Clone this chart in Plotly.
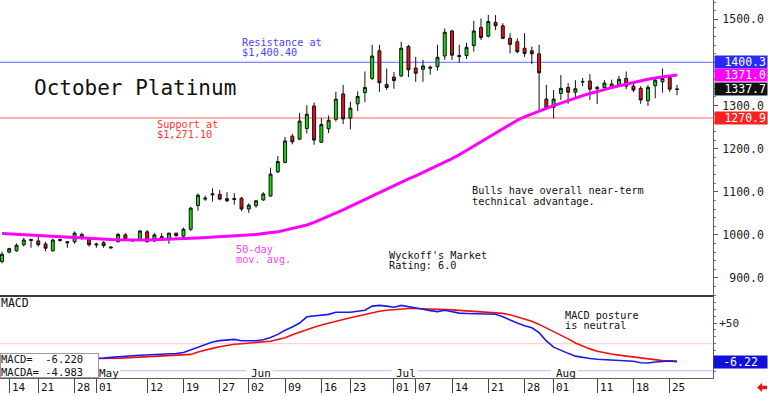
import pandas as pd
import plotly.graph_objects as go

W, H = 768, 396
MONO = "DejaVu Sans Mono"

# ---------------- data ----------------
holidays = ["2025-04-18", "2025-05-26", "2025-06-19", "2025-07-04"]
trade_days = [d.strftime("%Y-%m-%d") for d in pd.bdate_range("2025-04-11", "2025-08-26")
              if d.strftime("%Y-%m-%d") not in holidays]

opens = [938, 960, 963, 977, 987, 986, 979, 963, 987, 984,
         984, 1001, 990, 979, 982, 972, 984, 1000, 986, 988,
         1007, 986, 996, 990, 1004, 997, 1013, 1068, 1083, 1093,
         1094, 1084, 1082, 1085, 1060, 1068, 1081, 1090, 1146, 1168,
         1229, 1222, 1247, 1299, 1215, 1246, 1268, 1327, 1271, 1304,
         1330, 1363, 1427, 1349, 1366, 1369, 1437, 1387, 1384, 1389,
         1390, 1415, 1473, 1416, 1416, 1439, 1481, 1461, 1493, 1485,
         1456, 1448, 1433, 1427, 1420, 1315, 1296, 1328, 1342, 1331,
         1356, 1357, 1339, 1342, 1350, 1348, 1363, 1345, 1340, 1311,
         1346, 1355, 1365, 1338.5]
highs = [961, 970, 980, 993, 991, 996, 984, 991, 991, 986,
         1008, 1005, 994, 982, 986, 973, 1004, 1004, 989, 1011,
         1011, 1004, 1004, 1005, 1005, 1017, 1065, 1096, 1091, 1108,
         1104, 1099, 1097, 1088, 1073, 1081, 1099, 1156, 1183, 1227,
         1234, 1283, 1301, 1307, 1271, 1277, 1332, 1348, 1309, 1333,
         1379, 1441, 1441, 1386, 1378, 1448, 1441, 1413, 1406, 1393,
         1441, 1479, 1476, 1441, 1446, 1497, 1502, 1510, 1510, 1491,
         1468, 1456, 1468, 1437, 1441, 1348, 1336, 1371, 1352, 1359,
         1364, 1373, 1346, 1359, 1360, 1369, 1379, 1352, 1345, 1348,
         1366, 1386, 1368, 1348]
lows = [934, 957, 961, 973, 970, 973, 962, 961, 984, 970,
        979, 989, 973, 970, 970, 968, 983, 986, 984, 986,
        982, 984, 986, 979, 996, 994, 1009, 1056, 1079, 1077,
        1080, 1076, 1070, 1055, 1051, 1063, 1079, 1089, 1144, 1166,
        1210, 1220, 1235, 1209, 1213, 1236, 1263, 1257, 1245, 1287,
        1308, 1359, 1332, 1336, 1339, 1366, 1366, 1355, 1355, 1372,
        1381, 1406, 1406, 1400, 1408, 1425, 1452, 1458, 1475, 1454,
        1421, 1421, 1413, 1396, 1290, 1290, 1270, 1313, 1304, 1318,
        1345, 1313, 1304, 1334, 1339, 1345, 1338, 1331, 1304, 1299,
        1317, 1330, 1332, 1324]
closes = [955, 968, 976, 988, 989, 977, 969, 988, 989, 982,
          1004, 994, 977, 977, 975, 970, 1001, 990, 987, 1009,
          984, 1000, 990, 1004, 998, 1013, 1062, 1092, 1085, 1095,
          1083, 1079, 1084, 1060, 1069, 1079, 1095, 1141, 1170, 1218,
          1216, 1264, 1280, 1220, 1256, 1266, 1315, 1269, 1294, 1321,
          1342, 1415, 1353, 1342, 1358, 1433, 1383, 1375, 1392, 1387,
          1412, 1470, 1417, 1414, 1435, 1473, 1458, 1495, 1485, 1456,
          1442, 1425, 1421, 1420, 1376, 1294, 1315, 1340, 1331, 1339,
          1355, 1338, 1342, 1352, 1342, 1361, 1345, 1336, 1313, 1342,
          1359, 1363, 1338, 1337.7]
ma50 = [1003, 1002, 1001, 1000, 998.5, 997.5, 996.5, 995.5, 995, 994,
        993, 992, 991, 990, 989.5, 989, 988.5, 988, 988, 988,
        988, 988.5, 989, 989, 990, 991, 992, 993, 994, 995,
        996, 997, 997.5, 998, 999.5, 1001, 1003, 1004.5, 1007, 1011,
        1015, 1019, 1023, 1029, 1036, 1043, 1050, 1058, 1066, 1074,
        1083, 1091, 1099, 1107, 1115, 1123, 1130, 1137, 1145, 1152,
        1160, 1168, 1177, 1186, 1196, 1206, 1216, 1226, 1236, 1247,
        1256, 1266, 1274, 1280, 1287, 1293.5, 1300, 1306, 1312, 1317,
        1323, 1328, 1332, 1337, 1342, 1346, 1350, 1354, 1358, 1361,
        1364, 1366, 1369, 1371]
macd = [-3, -3, -2.8, -2.5, -2.3, -2, -2, -1.8, -1.7, -1.6,
        -1.5, -1.4, -1.3, -1.2, -0.7, 0.2, 1.3, 2, 2.6, 3.2,
        3.6, 4, 4.3, 4.8, 5.8, 7.2, 11, 14.7, 18.5, 22.5,
        24.5, 25.8, 26.3, 24.3, 24, 24.2, 25.8, 29, 33.5, 39.5,
        44.2, 50, 59, 60, 61, 62.5, 65.5, 65.5, 65.5, 67,
        68.5, 74.5, 75.5, 74.5, 72.8, 75.5, 74, 71.5, 70, 68,
        66.5, 68.5, 66.5, 64.3, 63.8, 63.5, 63.2, 63, 62.6, 59,
        54, 50, 46, 43, 36, 24, 15, 10, 6, 2,
        0, -1.5, -2.6, -3, -3.5, -4, -4.4, -5.5, -7.5, -8,
        -6.5, -5.2, -5, -6.22]
macda = [-3.5, -3.4, -3.3, -3.2, -3.1, -3, -2.9, -2.8, -2.7, -2.6,
         -2.5, -2.4, -2.3, -2.2, -1.9, -1.5, -1, -0.5, 0, 0.5,
         1, 1.5, 2, 2.5, 3, 3.5, 4.5, 8, 11, 13.2,
         15.5, 17.5, 19.2, 20, 20.8, 21.3, 21.8, 23.5, 26, 28.5,
         33, 37, 41, 44, 47, 50, 53, 55, 57.5, 60,
         62.5, 65, 67, 68.5, 69.5, 70.5, 71, 71, 70.8, 70.4,
         70, 69.5, 69, 68.3, 67.5, 66.5, 65.5, 65, 64.5, 64,
         62, 59, 56, 52.5, 48, 43, 38, 32, 27, 21,
         16.5, 12.5, 9, 6.5, 5, 3.5, 2, 0.5, -1, -2.5,
         -3.8, -4.5, -4.8, -4.983]

resistance = 1400.4
support = 1271.1
macd_ref_level = 20
last_labels = [("1400.3", 1400.3, "#2a2aff"), ("1371.0", 1371.0, "#ff00ff"),
               ("1337.7", 1337.7, "#111111"), ("1270.9", 1270.9, "#ff2020")]
price_ticks = [900, 1000, 1100, 1200, 1300, 1400, 1500]
price_tick_text = ["900.0", "1000.0", "1100.0", "1200.0", "1300.0", "", "1500.0"]
tick_dates = ["2025-04-14", "2025-04-21", "2025-04-28", "2025-05-01", "2025-05-12",
              "2025-05-19", "2025-05-27", "2025-06-02", "2025-06-09", "2025-06-16",
              "2025-06-23", "2025-07-01", "2025-07-07", "2025-07-14", "2025-07-21",
              "2025-07-28", "2025-08-01", "2025-08-11", "2025-08-18", "2025-08-25"]
tick_labels = ["14", "21", "28", "01", "12", "19", "27", "02", "09", "16",
               "23", "01", "07", "14", "21", "28", "01", "11", "18", "25"]
month_names = ["May", "Jun", "Jul", "Aug"]
month_starts = ["2025-05-01", "2025-06-02", "2025-07-01", "2025-08-01"]

# ---------------- figure ----------------
idx = list(range(len(trade_days)))
pos = {d: i for i, d in enumerate(trade_days)}

def px_x(p):
    return p / W

def px_y(p):
    return 1 - p / H

XDOM = [0, 713 / W]
XR = [-0.2756, 97.96]
PRICE_DOM = [px_y(295), 1]
MACD_DOM = [px_y(378), px_y(295)]

fig = go.Figure()
fig.add_trace(go.Candlestick(
    x=idx, open=opens, high=highs, low=lows, close=closes,
    increasing=dict(line=dict(color="#111111", width=1), fillcolor="#10dd10"),
    decreasing=dict(line=dict(color="#111111", width=1), fillcolor="#ee1010"),
    whiskerwidth=0, xaxis="x", yaxis="y", showlegend=False, hoverinfo="skip"))
fig.add_trace(go.Scatter(x=idx, y=ma50, mode="lines",
                         line=dict(color="#ff00ff", width=3),
                         xaxis="x", yaxis="y", showlegend=False, hoverinfo="skip"))
fig.add_trace(go.Scatter(x=idx, y=macda, mode="lines",
                         line=dict(color="#ee1111", width=1.6),
                         xaxis="x2", yaxis="y2", showlegend=False, hoverinfo="skip"))
fig.add_trace(go.Scatter(x=idx, y=macd, mode="lines",
                         line=dict(color="#1a1aee", width=1.6),
                         xaxis="x2", yaxis="y2", showlegend=False, hoverinfo="skip"))

shapes = [
    dict(type="line", xref="x domain", yref="y", x0=0, x1=1, y0=resistance, y1=resistance,
         line=dict(color="#6464ff", width=1), layer="below"),
    dict(type="line", xref="x domain", yref="y", x0=0, x1=1, y0=support, y1=support,
         line=dict(color="#ff6464", width=1), layer="below"),
    dict(type="line", xref="x2 domain", yref="y2", x0=0, x1=1, y0=macd_ref_level, y1=macd_ref_level,
         line=dict(color="#ffc8c8", width=1), layer="below"),
]
# month band lines
ms_idx = [pos[d] for d in month_starts]
seg_bounds = [(XR[0], ms_idx[0] - 0.35)]
for k, m in enumerate(ms_idx):
    end = ms_idx[k + 1] - 0.35 if k + 1 < len(ms_idx) else XR[1]
    seg_bounds.append((m + 3.3, end))
for a, b in seg_bounds:
    shapes.append(dict(type="line", xref="x2", yref="paper", x0=a, x1=b,
                       y0=px_y(370.7), y1=px_y(370.7),
                       line=dict(color="#c8c8f4", width=1.2)))
# small red arrow bottom-right
arrow = [(757, 387.5), (762, 383), (762, 385.8), (767, 385.8), (767, 389.2), (762, 389.2), (762, 392)]
path = "M " + " L ".join(f"{px_x(a):.5f},{px_y(b):.5f}" for a, b in arrow) + " Z"
shapes.append(dict(type="path", xref="paper", yref="paper", path=path,
                   fillcolor="#ee1111", line=dict(color="#ee1111", width=0)))

annotations = []

def txt(text, x, y, color="#111111", size=10.2, family=MONO, xanchor="left"):
    annotations.append(dict(text=text, x=px_x(x), y=px_y(y), xref="paper", yref="paper",
                            xanchor=xanchor, yanchor="middle", showarrow=False,
                            font=dict(family=family, size=size, color=color), borderpad=0))

txt("October Platinum", 33, 87.7, "#111111", 21)
txt("Resistance at", 241, 42.7, "#4646ff")
txt("$1,400.40", 241, 52.7, "#4646ff")
txt("Support at", 156, 124.3, "#ff3030")
txt("$1,271.10", 156, 134.3, "#ff3030")
txt("50-day", 235, 249, "#ff40ff")
txt("mov. avg.", 235, 259.3, "#ff40ff")
txt("Wyckoff's Market", 388, 255, "#111111")
txt("Rating: 6.0", 388, 265.3, "#111111")
txt("Bulls have overall near-term", 470.5, 190.7, "#111111")
txt("technical advantage.", 470.5, 201, "#111111")
txt("MACD posture", 564, 315.3, "#111111")
txt("is neutral", 564, 325.7, "#111111")
txt("MACD", 0, 303.3, "#111111", 11.5)

# date tick labels
for d, lab in zip(tick_dates, tick_labels):
    annotations.append(dict(text=lab, x=pos[d], y=px_y(387), xref="x2", yref="paper",
                            xanchor="left", yanchor="middle", xshift=1.5, showarrow=False,
                            font=dict(family=MONO, size=11, color="#111111"), borderpad=0))
# month labels
for m, d in zip(month_names, month_starts):
    annotations.append(dict(text=m, x=pos[d], y=px_y(373.5), xref="x2", yref="paper",
                            xanchor="left", yanchor="middle", xshift=1.5, showarrow=False,
                            font=dict(family=MONO, size=11, color="#111111"), borderpad=0))
# MACD readout box (drawn over the May label)
annotations.append(dict(text="MACD=  %.3f<br>MACDA= %.3f" % (macd[-1], macda[-1]),
                        x=0, y=px_y(378), xref="paper", yref="paper", xanchor="left", yanchor="bottom",
                        showarrow=False, align="left", width=97, height=23, bgcolor="#ffffff",
                        bordercolor="#9a9a9a", borderwidth=1, borderpad=0,
                        font=dict(family=MONO, size=10.5, color="#111111")))
# right-hand value boxes
for lab, val, col in last_labels:
    annotations.append(dict(text=lab, x=1, y=val, xref="paper", yref="y", xanchor="right",
                            yanchor="middle", showarrow=False, align="right", width=50, height=10,
                            bgcolor=col, borderpad=1, font=dict(family=MONO, size=11.5, color="#ffffff")))
annotations.append(dict(text="%.2f" % macd[-1], x=1, y=macd[-1], xref="paper", yref="y2",
                        xanchor="right", yanchor="middle", showarrow=False, align="center",
                        width=51, height=10, bgcolor="#1010d8", borderpad=1,
                        font=dict(family=MONO, size=11.5, color="#ffffff")))

fig.update_layout(
    width=W, height=H, margin=dict(l=0, r=0, t=0, b=0),
    paper_bgcolor="#ffffff", plot_bgcolor="#ffffff",
    boxgap=0.42, showlegend=False, hovermode=False,
    shapes=shapes, annotations=annotations,
    xaxis=dict(domain=XDOM, range=XR, anchor="y", showticklabels=False, showgrid=False,
               zeroline=False, showline=True, linecolor="#3a3a3a", linewidth=2,
               rangeslider=dict(visible=False), fixedrange=True),
    xaxis2=dict(domain=XDOM, range=XR, anchor="y2", showticklabels=False, showgrid=False,
                zeroline=False, showline=True, linecolor="#606060", linewidth=1,
                tickmode="array", tickvals=[pos[d] for d in tick_dates], ticks="outside",
                ticklen=14, tickcolor="#444444", tickwidth=1),
    yaxis=dict(domain=PRICE_DOM, range=[860.5, 1544.9], anchor="x", side="right",
               tickmode="array", tickvals=price_ticks,
               ticktext=[t.rjust(6, "\u00a0") if t else "" for t in price_tick_text],
               ticks="outside", ticklen=4, tickcolor="#555555", ticklabelstandoff=2,
               minor=dict(dtick=20, ticks="outside", ticklen=2, tickcolor="#777777"),
               showline=True, linecolor="#606060", linewidth=1, showgrid=False, zeroline=False,
               automargin=False, tickfont=dict(family=MONO, size=11.5, color="#222222")),
    yaxis2=dict(domain=MACD_DOM, range=[-29.7, 90.6], anchor="x2", side="right",
                tickmode="array", tickvals=[0, 50], ticktext=["", "+50"],
                ticks="outside", ticklen=3, tickcolor="#555555", ticklabelstandoff=0,
                minor=dict(dtick=10, ticks="outside", ticklen=2, tickcolor="#777777"),
                showline=True, linecolor="#606060", linewidth=1, showgrid=False, zeroline=False,
                automargin=False, tickfont=dict(family=MONO, size=11, color="#222222")),
)

fig.write_html("out.html", config={"displayModeBar": False, "staticPlot": True},
               post_script="document.body.style.margin='0';document.body.style.overflow='hidden';")
